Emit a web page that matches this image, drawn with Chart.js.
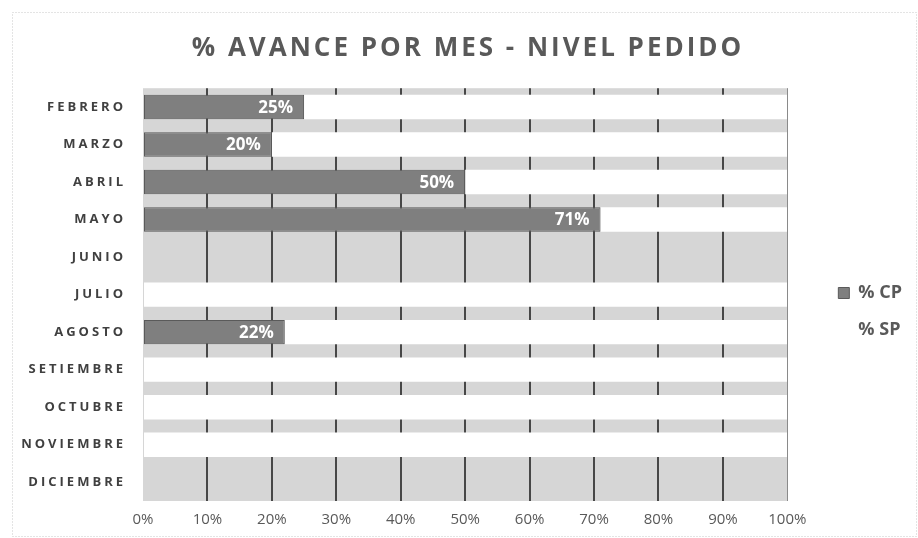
<!DOCTYPE html>
<html lang="es">
<head>
<meta charset="UTF-8">
<title>% Avance por mes - Nivel pedido</title>
<script src="https://cdn.jsdelivr.net/npm/chart.js"></script>
<style>
  html, body { margin: 0; padding: 0; background: #fff; }
  #wrap { width: 918px; height: 538px; }
</style>
</head>
<body>
<div id="wrap"><canvas id="avanceChart"></canvas></div>
<script>
// datos del grafico
var meses = ['FEBRERO', 'MARZO', 'ABRIL', 'MAYO', 'JUNIO', 'JULIO', 'AGOSTO',
             'SETIEMBRE', 'OCTUBRE', 'NOVIEMBRE', 'DICIEMBRE'];
var pctCP = [25, 20, 50, 71, 0, 0, 22, 0, 0, 0, 0];
var pctSP = [75, 80, 50, 29, 0, 100, 78, 100, 100, 100, 0];
var seriesNames = ['% CP', '% SP'];
var tituloGrafico = '% AVANCE POR MES - NIVEL PEDIDO';

// envuelve un metodo de dibujo para aplicar letterSpacing (y un desplazamiento) solo ahi
function conEspaciado(obj, metodo, esp, dx) {
    if (!obj || obj['_esp_' + metodo]) return;
    var orig = obj[metodo];
    obj[metodo] = function() {
        var c = this.ctx;
        c.save();
        c.letterSpacing = esp;
        c.translate(dx || 0, 0);
        var r = orig.apply(this, arguments);
        c.restore();
        c.letterSpacing = '0px';
        return r;
    };
    obj['_esp_' + metodo] = true;
}

// fondo gris del area de trazado, marco punteado y ajustes de posicion
var fondoPlugin = {
    id: 'fondo',
    afterLayout: function(chart) {
        // separar la leyenda del grafico y bajarla un poco, como en el original
        var lg = chart.legend;
        if (lg && !lg._movida) {
            lg.left += 32; lg.right += 32;
            lg.top += 41; lg.bottom += 41;
            lg._movida = true;
        }
    },
    beforeDraw: function(chart) {
        conEspaciado(chart.titleBlock, 'draw', '3px', 21);
        conEspaciado(chart.scales.y, 'drawLabels', '3px', 0);
        var c = chart.ctx, a = chart.chartArea;
        c.save();
        c.strokeStyle = '#c8c8c8';
        c.setLineDash([1, 2]);
        c.lineWidth = 1;
        c.strokeRect(12.5, 12.5, chart.width - 14, chart.height - 14);
        c.setLineDash([]);
        c.fillStyle = '#d6d6d6';
        c.fillRect(a.left, a.top, a.right - a.left, a.bottom - a.top);
        c.restore();
    }
};

// etiquetas blancas al final de las barras CP + linea del 100%
var etiquetasPlugin = {
    id: 'etiquetas',
    afterDatasetsDraw: function(chart) {
        var c = chart.ctx, a = chart.chartArea;
        var meta = chart.getDatasetMeta(0);
        c.save();
        var xr = Math.round(chart.scales.x.getPixelForValue(100)) + 0.5;
        c.strokeStyle = '#8a8a8a';
        c.lineWidth = 1;
        c.beginPath();
        c.moveTo(xr, a.top);
        c.lineTo(xr, a.bottom);
        c.stroke();
        c.font = 'bold 17px "Open Sans", sans-serif';
        c.fillStyle = '#ffffff';
        c.textAlign = 'right';
        c.textBaseline = 'middle';
        meta.data.forEach(function(bar, i) {
            var v = chart.data.datasets[0].data[i];
            if (!v) return;
            c.fillText(v + '%', bar.x - 11, bar.y + 1);
        });
        c.restore();
    }
};

var ctx = document.getElementById('avanceChart').getContext('2d');
var avanceChart = new Chart(ctx, {
    type: 'bar',
    data: {
        labels: meses,
        datasets: [{
            label: seriesNames[0],
            data: pctCP,
            backgroundColor: '#7f7f7f',
            borderColor: '#5a5a5a',
            borderWidth: 1,
            borderSkipped: false
        }, {
            label: seriesNames[1],
            data: pctSP,
            backgroundColor: '#ffffff',
            borderColor: '#ffffff',
            borderWidth: 0
        }]
    },
    options: {
        indexAxis: 'y',
        responsive: true,
        maintainAspectRatio: false,
        animation: false,
        categoryPercentage: 1,
        barPercentage: 0.65,
        layout: { padding: { top: 12, right: 38, bottom: 9, left: 14 } },
        scales: {
            x: {
                stacked: true,
                min: 0,
                max: 100,
                afterFit: function(s) { s.height = 28; },
                ticks: {
                    stepSize: 10,
                    color: '#595959',
                    padding: 10,
                    maxRotation: 0,
                    font: { family: '"Open Sans", sans-serif', size: 15 },
                    callback: function(v) { return v + '%'; }
                },
                grid: {
                    color: function(c) {
                        return (c.tick && (c.tick.value === 0 || c.tick.value === 100)) ? 'rgba(0,0,0,0)' : '#474747';
                    },
                    lineWidth: 2,
                    drawTicks: false
                },
                border: { display: false }
            },
            y: {
                stacked: true,
                afterFit: function(s) { s.width = 129; },
                ticks: {
                    color: '#404040',
                    font: { family: '"Open Sans", sans-serif', size: 13, weight: 'bold' },
                    padding: 9
                },
                grid: { display: false },
                border: { display: false }
            }
        },
        plugins: {
            title: {
                display: true,
                text: tituloGrafico,
                color: '#595959',
                font: { family: '"Open Sans", sans-serif', size: 26, weight: 'bold' },
                padding: { top: 21, bottom: 24 }
            },
            legend: {
                position: 'right',
                labels: {
                    color: '#595959',
                    font: { family: '"Open Sans", sans-serif', size: 18, weight: 'bold' },
                    boxWidth: 11,
                    boxHeight: 11,
                    padding: 19
                }
            },
            tooltip: { enabled: false }
        }
    },
    plugins: [fondoPlugin, etiquetasPlugin]
});
</script>
</body>
</html>
